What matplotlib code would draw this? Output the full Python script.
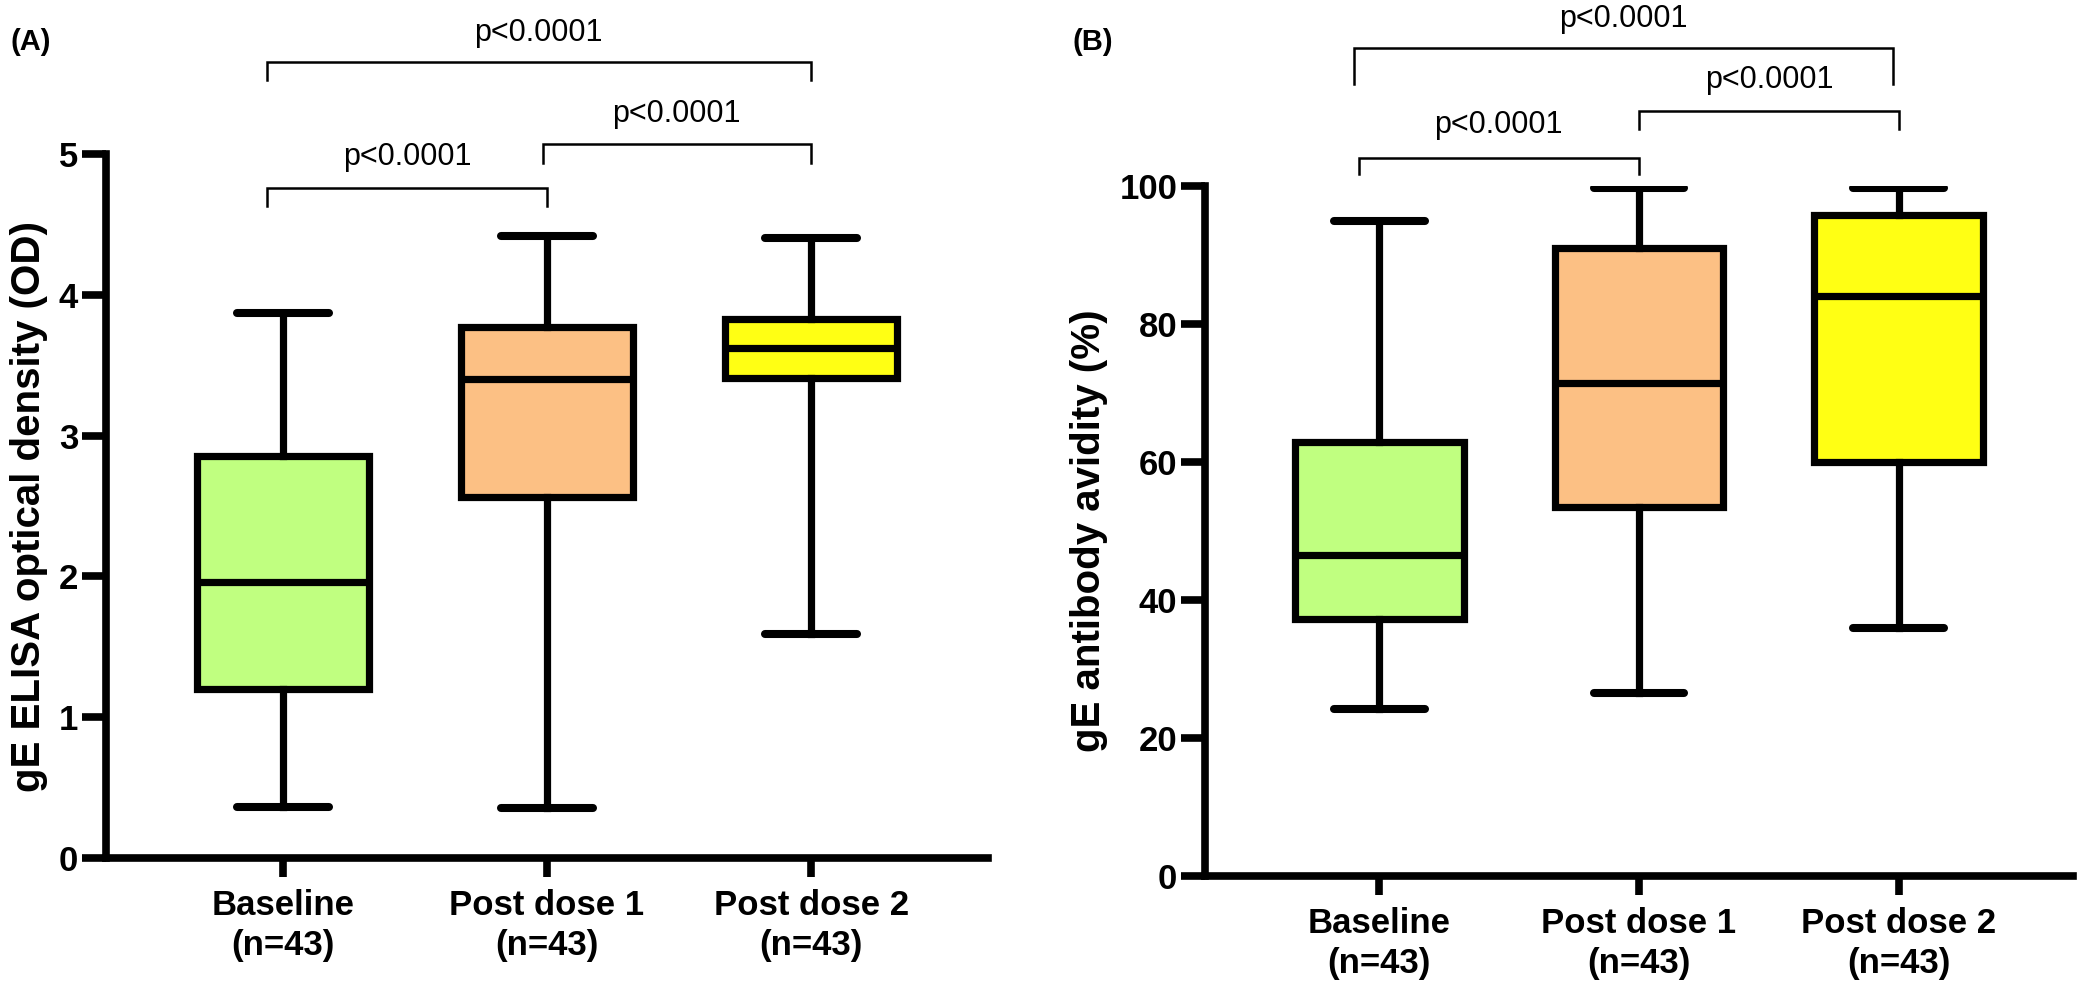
import matplotlib
matplotlib.use("Agg")
import matplotlib.pyplot as plt

plt.rcParams['font.family'] = ['Liberation Sans', 'DejaVu Sans']

categories = ['Baseline\n(n=43)', 'Post dose 1\n(n=43)', 'Post dose 2\n(n=43)']
colors = ['#C0FF80', '#FCC084', '#FFFF14']

# Panel A: gE ELISA OD
od_whislo = [0.36, 0.355, 1.59]
od_q1 = [1.20, 2.565, 3.41]
od_med = [1.96, 3.40, 3.62]
od_q3 = [2.855, 3.77, 3.83]
od_whishi = [3.87, 4.42, 4.40]
od_yticks = [0, 1, 2, 3, 4, 5]

# Panel B: avidity (%)
av_whislo = [24.2, 26.5, 35.9]
av_q1 = [37.2, 53.5, 60.0]
av_med = [46.5, 71.5, 84.1]
av_q3 = [62.9, 91.0, 95.8]
av_whishi = [94.9, 99.7, 99.7]
av_yticks = [0, 20, 40, 60, 80, 100]

pval_text = 'p<0.0001'

# brackets: (x1, x2, y_bar, y_drop, text_x, text_y)
od_brackets = [(-0.06, 2.0, 5.653, 5.526, 0.966, 5.80),
               (-0.06, 1.0, 4.758, 4.631, 0.47, 4.92),
               (0.985, 2.0, 5.071, 4.936, 1.49, 5.227)]
av_brackets = [(-0.096, 1.977, 120.0, 114.8, 0.94, 123.0),
               (-0.077, 1.0, 104.1, 101.7, 0.46, 107.7),
               (1.0, 2.0, 110.9, 108.3, 1.50, 114.2)]

W, H = 2077, 986
fig = plt.figure(figsize=(W / 100, H / 100), dpi=100)
axA = fig.add_axes([106 / W, (H - 858) / H, (988 - 106) / W, (858 - 154) / H])
axB = fig.add_axes([1205 / W, (H - 876) / H, (2073 - 1205) / W, (876 - 186) / H])

LW = 5.2


def draw(ax, lo, q1, med, q3, hi, yticks, ylim, ylabel, brackets, px):
    stats = []
    for i in range(len(categories)):
        stats.append(dict(whislo=lo[i], q1=q1[i], med=med[i], q3=q3[i],
                          whishi=hi[i], fliers=[], label=categories[i]))
    bp = ax.bxp(stats, positions=range(len(categories)), widths=0.65,
                capwidths=0.35, patch_artist=True, showfliers=False,
                boxprops=dict(linewidth=LW, edgecolor='black'),
                medianprops=dict(linewidth=LW, color='black'),
                whiskerprops=dict(linewidth=LW, color='black'),
                capprops=dict(linewidth=LW + 0.6, color='black',
                              solid_capstyle='round'))
    for patch, c in zip(bp['boxes'], colors):
        patch.set_facecolor(c)
    ax.set_xlim(-0.67, 2.67)
    ax.set_ylim(*ylim)
    ax.set_yticks(yticks)
    ax.set_xticks(range(len(categories)))
    ax.set_xticklabels(categories, fontsize=25, fontweight='bold',
                       linespacing=1.3)
    ax.set_yticklabels([str(t) for t in yticks], fontsize=25,
                       fontweight='bold')
    for s in ['top', 'right']:
        ax.spines[s].set_visible(False)
    for s in ['left', 'bottom']:
        ax.spines[s].set_linewidth(5.5)
    ax.tick_params(axis='y', length=17, width=5.5, pad=3)
    ax.tick_params(axis='x', length=14, width=5.5, pad=8)
    ax.set_ylabel(ylabel, fontsize=29, fontweight='bold', labelpad=px)
    for x1, x2, yb, yd, tx, ty in brackets:
        ax.plot([x1, x1, x2, x2], [yd, yb, yb, yd], color='black', lw=1.8,
                clip_on=False, solid_joinstyle='miter')
        ax.text(tx, ty, pval_text, ha='center', va='baseline', fontsize=22)


draw(axA, od_whislo, od_q1, od_med, od_q3, od_whishi, od_yticks, (0, 5),
     'gE ELISA optical density (OD)', od_brackets, 8)
draw(axB, av_whislo, av_q1, av_med, av_q3, av_whishi, av_yticks, (0, 100),
     'gE antibody avidity (%)', av_brackets, 8)

fig.text(11 / W, 1 - 50 / H, '(A)', fontsize=21, fontweight='bold',
         ha='left', va='baseline')
fig.text(1073 / W, 1 - 50 / H, '(B)', fontsize=21, fontweight='bold',
         ha='left', va='baseline')

fig.savefig('out.png', dpi=100)
